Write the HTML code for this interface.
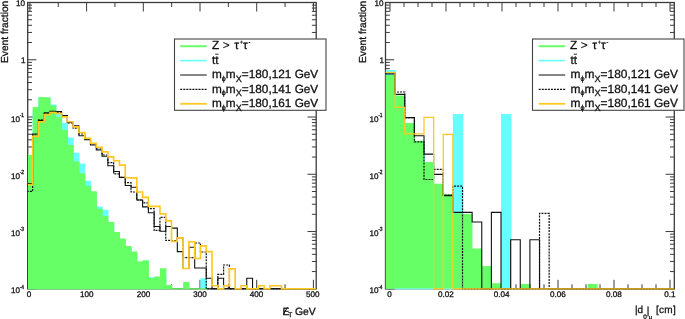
<!DOCTYPE html>
<html><head><meta charset="utf-8"><title>Event fraction</title>
<style>
html,body{margin:0;padding:0;background:#fff}
svg{display:block}
text{font-family:"Liberation Sans","DejaVu Sans",sans-serif;fill:#111;stroke:#111;stroke-width:0.3px;text-rendering:geometricPrecision}
.lb{font-size:8.1px}
.sp{font-size:6px}
.ti{font-size:10px}
.lg{font-size:11.8px}
.ls{font-size:7.2px}
.lsp{font-size:5.5px}
.ls2{font-size:9.2px}
</style></head><body>
<svg width="685" height="319" viewBox="0 0 685 319">
<rect width="685" height="319" fill="#fff"/>
<g>
<g>
<rect x="27.70" y="2.50" width="288.50" height="286.30" fill="none" stroke="#3a3a3a" stroke-width="1.3"/>
<path d="M27.70 288.80h8.70M316.20 288.80h-8.70M27.70 271.56h4.30M316.20 271.56h-4.30M27.70 261.48h4.30M316.20 261.48h-4.30M27.70 254.33h4.30M316.20 254.33h-4.30M27.70 248.78h4.30M316.20 248.78h-4.30M27.70 244.24h4.30M316.20 244.24h-4.30M27.70 240.41h4.30M316.20 240.41h-4.30M27.70 237.09h4.30M316.20 237.09h-4.30M27.70 234.16h4.30M316.20 234.16h-4.30M27.70 231.54h8.70M316.20 231.54h-8.70M27.70 214.30h4.30M316.20 214.30h-4.30M27.70 204.22h4.30M316.20 204.22h-4.30M27.70 197.07h4.30M316.20 197.07h-4.30M27.70 191.52h4.30M316.20 191.52h-4.30M27.70 186.98h4.30M316.20 186.98h-4.30M27.70 183.15h4.30M316.20 183.15h-4.30M27.70 179.83h4.30M316.20 179.83h-4.30M27.70 176.90h4.30M316.20 176.90h-4.30M27.70 174.28h8.70M316.20 174.28h-8.70M27.70 157.04h4.30M316.20 157.04h-4.30M27.70 146.96h4.30M316.20 146.96h-4.30M27.70 139.81h4.30M316.20 139.81h-4.30M27.70 134.26h4.30M316.20 134.26h-4.30M27.70 129.72h4.30M316.20 129.72h-4.30M27.70 125.89h4.30M316.20 125.89h-4.30M27.70 122.57h4.30M316.20 122.57h-4.30M27.70 119.64h4.30M316.20 119.64h-4.30M27.70 117.02h8.70M316.20 117.02h-8.70M27.70 99.78h4.30M316.20 99.78h-4.30M27.70 89.70h4.30M316.20 89.70h-4.30M27.70 82.55h4.30M316.20 82.55h-4.30M27.70 77.00h4.30M316.20 77.00h-4.30M27.70 72.46h4.30M316.20 72.46h-4.30M27.70 68.63h4.30M316.20 68.63h-4.30M27.70 65.31h4.30M316.20 65.31h-4.30M27.70 62.38h4.30M316.20 62.38h-4.30M27.70 59.76h8.70M316.20 59.76h-8.70M27.70 42.52h4.30M316.20 42.52h-4.30M27.70 32.44h4.30M316.20 32.44h-4.30M27.70 25.29h4.30M316.20 25.29h-4.30M27.70 19.74h4.30M316.20 19.74h-4.30M27.70 15.20h4.30M316.20 15.20h-4.30M27.70 11.37h4.30M316.20 11.37h-4.30M27.70 8.05h4.30M316.20 8.05h-4.30M27.70 5.12h4.30M316.20 5.12h-4.30M27.70 2.50h8.70M316.20 2.50h-8.70M29.90 288.80v-9.00M29.90 2.50v9.00M58.25 288.80v-4.50M58.25 2.50v4.50M86.60 288.80v-9.00M86.60 2.50v9.00M114.95 288.80v-4.50M114.95 2.50v4.50M143.30 288.80v-9.00M143.30 2.50v9.00M171.65 288.80v-4.50M171.65 2.50v4.50M200.00 288.80v-9.00M200.00 2.50v9.00M228.35 288.80v-4.50M228.35 2.50v4.50M256.70 288.80v-9.00M256.70 2.50v9.00M285.05 288.80v-4.50M285.05 2.50v4.50M313.40 288.80v-9.00M313.40 2.50v9.00" stroke="#3a3a3a" stroke-width="1" fill="none"/>
<clipPath id="cl"><rect x="28.0" y="0" width="288.80" height="289.80"/></clipPath><g clip-path="url(#cl)">
<path d="M27.20 288.80 L27.20 160.00 L32.64 160.00 L32.64 110.00 L38.42 110.00 L38.42 100.00 L44.21 100.00 L44.21 100.00 L50.60 100.00 L50.60 104.40 L56.38 104.40 L56.38 113.90 L62.17 113.90 L62.17 122.90 L67.96 122.90 L67.96 137.50 L73.75 137.50 L73.75 152.80 L79.53 152.80 L79.53 163.50 L85.32 163.50 L85.32 180.80 L91.11 180.80 L91.11 195.00 L96.89 195.00 L96.89 206.40 L102.68 206.40 L102.68 209.70 L108.47 209.70 L108.47 225.00 L114.25 225.00 L114.25 235.00 L120.04 235.00 L120.04 240.00 L125.83 240.00 L125.83 248.00 L131.62 248.00 L131.62 255.00 L137.40 255.00 L137.40 265.00 L142.59 265.00 L142.59 265.00 L148.98 265.00 L148.98 277.30 L154.76 277.30 L154.76 280.00 L159.95 280.00 L159.95 275.00 L166.34 275.00 L166.34 288.80 L171.53 288.80 L171.53 288.80 L177.31 288.80 L177.31 288.80 L183.10 288.80 L183.10 288.80 L188.89 288.80 L188.89 288.80 L194.67 288.80 L194.67 288.80 L200.46 288.80 L200.46 278.20 L206.85 278.20 L206.85 288.80 L212.03 288.80 L212.03 288.80 L217.82 288.80 L217.82 288.80 L223.61 288.80 L223.61 288.80 L229.39 288.80 L229.39 288.80 L235.18 288.80 L235.18 288.80 L240.97 288.80 L240.97 288.80 L246.76 288.80 L246.76 288.80 L252.54 288.80 L252.54 288.80 L258.33 288.80 L258.33 288.80 L264.12 288.80 L264.12 288.80 L269.90 288.80 L269.90 288.80 L275.69 288.80 L275.69 288.80 L281.48 288.80 L281.48 288.80 L287.27 288.80 L287.27 288.80 L293.05 288.80 L293.05 288.80 L298.84 288.80 L298.84 288.80 L304.63 288.80 L304.63 288.80 L310.41 288.80 L310.41 288.80 L316.20 288.80 L316.20 288.80 Z" fill="#66ffff"/>
<path d="M27.20 288.80 L27.20 155.10 L32.64 155.10 L32.64 106.90 L38.42 106.90 L38.42 96.90 L44.81 96.90 L44.81 97.20 L50.60 97.20 L50.60 105.50 L56.38 105.50 L56.38 117.00 L62.17 117.00 L62.17 130.00 L67.96 130.00 L67.96 145.00 L73.75 145.00 L73.75 161.40 L79.53 161.40 L79.53 173.20 L85.32 173.20 L85.32 185.70 L91.11 185.70 L91.11 191.30 L96.89 191.30 L96.89 208.70 L102.68 208.70 L102.68 216.00 L108.47 216.00 L108.47 221.90 L114.25 221.90 L114.25 231.90 L120.04 231.90 L120.04 238.60 L125.83 238.60 L125.83 246.00 L131.62 246.00 L131.62 251.50 L137.40 251.50 L137.40 261.30 L142.59 261.30 L142.59 260.30 L148.98 260.30 L148.98 278.00 L154.16 278.00 L154.16 276.40 L159.95 276.40 L159.95 268.20 L166.34 268.20 L166.34 285.10 L172.12 285.10 L172.12 288.80 L177.31 288.80 L177.31 288.80 L183.10 288.80 L183.10 282.00 L189.49 282.00 L189.49 288.80 L194.67 288.80 L194.67 288.80 L200.46 288.80 L200.46 288.80 L206.25 288.80 L206.25 288.80 L212.03 288.80 L212.03 288.80 L217.82 288.80 L217.82 288.80 L223.61 288.80 L223.61 288.80 L229.39 288.80 L229.39 288.80 L235.18 288.80 L235.18 288.80 L240.97 288.80 L240.97 288.80 L246.76 288.80 L246.76 288.80 L252.54 288.80 L252.54 288.80 L258.33 288.80 L258.33 288.80 L264.12 288.80 L264.12 288.80 L269.90 288.80 L269.90 288.80 L275.69 288.80 L275.69 288.80 L281.48 288.80 L281.48 288.80 L287.27 288.80 L287.27 288.80 L293.05 288.80 L293.05 288.80 L298.84 288.80 L298.84 288.80 L304.63 288.80 L304.63 288.80 L310.41 288.80 L310.41 288.80 L316.20 288.80 L316.20 288.80 Z" fill="#66ff66"/>
<path d="M27.70 288.80H207.10" stroke="#66ff66" stroke-width="1.2"/>
<path d="M26.85 183.50 L32.64 183.50 L32.64 134.00 L38.42 134.00 L38.42 120.40 L44.21 120.40 L44.21 112.90 L50.00 112.90 L50.00 111.30 L55.78 111.30 L55.78 111.60 L61.57 111.60 L61.57 115.50 L67.36 115.50 L67.36 122.50 L73.15 122.50 L73.15 125.80 L78.93 125.80 L78.93 135.70 L84.72 135.70 L84.72 139.80 L90.51 139.80 L90.51 145.00 L96.29 145.00 L96.29 150.00 L102.08 150.00 L102.08 156.30 L107.87 156.30 L107.87 165.70 L113.66 165.70 L113.66 171.50 L119.44 171.50 L119.44 177.50 L125.23 177.50 L125.23 185.50 L131.02 185.50 L131.02 187.30 L136.80 187.30 L136.80 200.00 L142.59 200.00 L142.59 206.90 L148.38 206.90 L148.38 212.80 L154.16 212.80 L154.16 226.50 L159.95 226.50 L159.95 231.30 L165.74 231.30 L165.74 226.50 L171.53 226.50 L171.53 228.10 L177.31 228.10 L177.31 251.60 L183.10 251.60 L183.10 268.50 L188.89 268.50 L188.89 247.20 L194.67 247.20 L194.67 268.00 L200.46 268.00 L200.46 268.00 L206.25 268.00 L206.25 278.20 L212.03 278.20 L212.03 288.80 L217.82 288.80 L217.82 278.20 L223.61 278.20 L223.61 288.80 L229.39 288.80 L229.39 288.80 L235.18 288.80 L235.18 288.80 L240.97 288.80 L240.97 288.80 L246.76 288.80 L246.76 278.20 L252.54 278.20 L252.54 288.80 L258.33 288.80 L258.33 288.80 L264.12 288.80 L264.12 288.80 L269.90 288.80 L269.90 288.80 L275.69 288.80 L275.69 288.80 L281.48 288.80 L281.48 288.80 L287.27 288.80 L287.27 288.80 L293.05 288.80 L293.05 288.80 L298.84 288.80 L298.84 288.80 L304.63 288.80 L304.63 288.80 L310.41 288.80 L310.41 288.80 L316.20 288.80" fill="none" stroke="#111" stroke-width="1.1" stroke-linejoin="miter"/>
<path d="M26.85 191.30 L32.64 191.30 L32.64 135.00 L38.42 135.00 L38.42 120.00 L44.21 120.00 L44.21 113.50 L50.00 113.50 L50.00 112.00 L55.78 112.00 L55.78 112.50 L61.57 112.50 L61.57 116.00 L67.36 116.00 L67.36 123.00 L73.15 123.00 L73.15 128.20 L78.93 128.20 L78.93 134.00 L84.72 134.00 L84.72 139.00 L90.51 139.00 L90.51 144.00 L96.29 144.00 L96.29 149.00 L102.08 149.00 L102.08 155.00 L107.87 155.00 L107.87 162.60 L113.66 162.60 L113.66 173.90 L119.44 173.90 L119.44 177.00 L125.23 177.00 L125.23 182.60 L131.02 182.60 L131.02 192.00 L136.80 192.00 L136.80 200.00 L142.59 200.00 L142.59 202.80 L148.38 202.80 L148.38 208.60 L154.16 208.60 L154.16 230.40 L159.95 230.40 L159.95 217.30 L165.74 217.30 L165.74 240.40 L171.53 240.40 L171.53 240.60 L177.31 240.60 L177.31 238.00 L183.10 238.00 L183.10 257.60 L188.89 257.60 L188.89 257.60 L194.67 257.60 L194.67 243.00 L200.46 243.00 L200.46 252.00 L206.25 252.00 L206.25 288.80 L212.03 288.80 L212.03 288.80 L217.82 288.80 L217.82 274.40 L223.61 274.40 L223.61 265.00 L229.39 265.00 L229.39 288.80 L235.18 288.80 L235.18 288.80 L240.97 288.80 L240.97 288.80 L246.76 288.80 L246.76 288.80 L252.54 288.80 L252.54 288.80 L258.33 288.80 L258.33 288.80 L264.12 288.80 L264.12 288.80 L269.90 288.80 L269.90 288.80 L275.69 288.80 L275.69 288.80 L281.48 288.80 L281.48 288.80 L287.27 288.80 L287.27 288.80 L293.05 288.80 L293.05 288.80 L298.84 288.80 L298.84 288.80 L304.63 288.80 L304.63 288.80 L310.41 288.80 L310.41 288.80 L316.20 288.80" fill="none" stroke="#111" stroke-width="1.2" stroke-dasharray="2 1.05"/>
<path d="M26.85 184.50 L32.64 184.50 L32.64 136.30 L38.42 136.30 L38.42 121.70 L44.21 121.70 L44.21 114.60 L50.00 114.60 L50.00 112.50 L55.78 112.50 L55.78 113.30 L61.57 113.30 L61.57 116.80 L67.36 116.80 L67.36 121.70 L73.15 121.70 L73.15 126.90 L78.93 126.90 L78.93 132.50 L84.72 132.50 L84.72 138.20 L90.51 138.20 L90.51 143.20 L96.29 143.20 L96.29 147.20 L102.08 147.20 L102.08 151.90 L107.87 151.90 L107.87 156.90 L113.66 156.90 L113.66 160.70 L119.44 160.70 L119.44 165.10 L125.23 165.10 L125.23 177.70 L131.02 177.70 L131.02 177.90 L136.80 177.90 L136.80 192.00 L142.59 192.00 L142.59 197.40 L148.38 197.40 L148.38 206.30 L154.16 206.30 L154.16 206.30 L159.95 206.30 L159.95 213.80 L165.74 213.80 L165.74 220.80 L171.53 220.80 L171.53 241.30 L177.31 241.30 L177.31 237.80 L183.10 237.80 L183.10 268.50 L188.89 268.50 L188.89 241.70 L194.67 241.70 L194.67 258.50 L200.46 258.50 L200.46 245.90 L206.25 245.90 L206.25 251.60 L212.03 251.60 L212.03 285.70 L217.82 285.70 L217.82 288.80 L223.61 288.80 L223.61 285.70 L229.39 285.70 L229.39 268.80 L235.18 268.80 L235.18 288.80 L240.97 288.80 L240.97 285.70 L246.76 285.70 L246.76 288.80 L252.54 288.80 L252.54 288.80 L258.33 288.80 L258.33 285.70 L264.12 285.70 L264.12 288.80 L269.90 288.80 L269.90 285.70 L275.69 285.70 L275.69 285.70 L281.48 285.70 L281.48 288.80 L287.27 288.80 L287.27 288.80 L293.05 288.80 L293.05 288.80 L298.84 288.80 L298.84 288.80 L304.63 288.80 L304.63 288.80 L310.41 288.80 L310.41 288.80 L316.20 288.80" fill="none" stroke="#ffc820" stroke-width="1.65"/>
</g>
<path d="M283.3 314.6L287.4 307.3" stroke="#111" stroke-width="1"/>
<rect x="174.5" y="39.0" width="151.5" height="71.3" fill="#fff" stroke="#444" stroke-width="1.1"/>
<path d="M180.2 46.2H206.7" stroke="#66ff66" stroke-width="2"/>
<path d="M180.2 60.6H206.7" stroke="#66ffff" stroke-width="1.6"/>
<path d="M180.2 75.0H206.7" stroke="#333" stroke-width="1.2"/>
<path d="M180.2 89.4H206.7" stroke="#111" stroke-width="1.2" stroke-dasharray="2 1.05"/>
<path d="M180.2 103.8H206.7" stroke="#ffc820" stroke-width="1.8"/>
<path d="M215.2 54.2h3.3" stroke="#111" stroke-width="0.9"/>
</g>
<g>
<rect x="385.50" y="2.50" width="288.80" height="286.30" fill="none" stroke="#3a3a3a" stroke-width="1.3"/>
<path d="M385.50 288.80h8.70M674.30 288.80h-8.70M385.50 271.56h4.30M674.30 271.56h-4.30M385.50 261.48h4.30M674.30 261.48h-4.30M385.50 254.33h4.30M674.30 254.33h-4.30M385.50 248.78h4.30M674.30 248.78h-4.30M385.50 244.24h4.30M674.30 244.24h-4.30M385.50 240.41h4.30M674.30 240.41h-4.30M385.50 237.09h4.30M674.30 237.09h-4.30M385.50 234.16h4.30M674.30 234.16h-4.30M385.50 231.54h8.70M674.30 231.54h-8.70M385.50 214.30h4.30M674.30 214.30h-4.30M385.50 204.22h4.30M674.30 204.22h-4.30M385.50 197.07h4.30M674.30 197.07h-4.30M385.50 191.52h4.30M674.30 191.52h-4.30M385.50 186.98h4.30M674.30 186.98h-4.30M385.50 183.15h4.30M674.30 183.15h-4.30M385.50 179.83h4.30M674.30 179.83h-4.30M385.50 176.90h4.30M674.30 176.90h-4.30M385.50 174.28h8.70M674.30 174.28h-8.70M385.50 157.04h4.30M674.30 157.04h-4.30M385.50 146.96h4.30M674.30 146.96h-4.30M385.50 139.81h4.30M674.30 139.81h-4.30M385.50 134.26h4.30M674.30 134.26h-4.30M385.50 129.72h4.30M674.30 129.72h-4.30M385.50 125.89h4.30M674.30 125.89h-4.30M385.50 122.57h4.30M674.30 122.57h-4.30M385.50 119.64h4.30M674.30 119.64h-4.30M385.50 117.02h8.70M674.30 117.02h-8.70M385.50 99.78h4.30M674.30 99.78h-4.30M385.50 89.70h4.30M674.30 89.70h-4.30M385.50 82.55h4.30M674.30 82.55h-4.30M385.50 77.00h4.30M674.30 77.00h-4.30M385.50 72.46h4.30M674.30 72.46h-4.30M385.50 68.63h4.30M674.30 68.63h-4.30M385.50 65.31h4.30M674.30 65.31h-4.30M385.50 62.38h4.30M674.30 62.38h-4.30M385.50 59.76h8.70M674.30 59.76h-8.70M385.50 42.52h4.30M674.30 42.52h-4.30M385.50 32.44h4.30M674.30 32.44h-4.30M385.50 25.29h4.30M674.30 25.29h-4.30M385.50 19.74h4.30M674.30 19.74h-4.30M385.50 15.20h4.30M674.30 15.20h-4.30M385.50 11.37h4.30M674.30 11.37h-4.30M385.50 8.05h4.30M674.30 8.05h-4.30M385.50 5.12h4.30M674.30 5.12h-4.30M385.50 2.50h8.70M674.30 2.50h-8.70M390.00 288.80v-9.00M390.00 2.50v9.00M404.00 288.80v-4.50M404.00 2.50v4.50M418.00 288.80v-4.50M418.00 2.50v4.50M432.00 288.80v-4.50M432.00 2.50v4.50M446.00 288.80v-9.00M446.00 2.50v9.00M460.00 288.80v-4.50M460.00 2.50v4.50M474.00 288.80v-4.50M474.00 2.50v4.50M488.00 288.80v-4.50M488.00 2.50v4.50M502.00 288.80v-9.00M502.00 2.50v9.00M516.00 288.80v-4.50M516.00 2.50v4.50M530.00 288.80v-4.50M530.00 2.50v4.50M544.00 288.80v-4.50M544.00 2.50v4.50M558.00 288.80v-9.00M558.00 2.50v9.00M572.00 288.80v-4.50M572.00 2.50v4.50M586.00 288.80v-4.50M586.00 2.50v4.50M600.00 288.80v-4.50M600.00 2.50v4.50M614.00 288.80v-9.00M614.00 2.50v9.00M628.00 288.80v-4.50M628.00 2.50v4.50M642.00 288.80v-4.50M642.00 2.50v4.50M656.00 288.80v-4.50M656.00 2.50v4.50M670.00 288.80v-9.00M670.00 2.50v9.00" stroke="#3a3a3a" stroke-width="1" fill="none"/>
<path d="M385.85 288.80 L385.85 70.00 L395.93 70.00 L395.93 100.00 L405.55 100.00 L405.55 125.00 L415.18 125.00 L415.18 145.00 L424.81 145.00 L424.81 165.00 L434.43 165.00 L434.43 188.00 L444.06 188.00 L444.06 200.00 L452.89 200.00 L452.89 114.10 L463.31 114.10 L463.31 288.80 L472.14 288.80 L472.14 288.80 L481.77 288.80 L481.77 288.80 L491.39 288.80 L491.39 288.80 L501.02 288.80 L501.02 114.10 L511.45 114.10 L511.45 288.80 L520.27 288.80 L520.27 288.80 L529.90 288.80 L529.90 288.80 L539.53 288.80 L539.53 288.80 L549.15 288.80 L549.15 288.80 L558.78 288.80 L558.78 288.80 L568.41 288.80 L568.41 288.80 L578.03 288.80 L578.03 288.80 L587.66 288.80 L587.66 288.80 L597.29 288.80 L597.29 288.80 L606.91 288.80 L606.91 288.80 L616.54 288.80 L616.54 288.80 L626.17 288.80 L626.17 288.80 L635.79 288.80 L635.79 288.80 L645.42 288.80 L645.42 288.80 L655.05 288.80 L655.05 288.80 L664.67 288.80 L664.67 288.80 L674.30 288.80 L674.30 288.80 Z" fill="#66ffff"/>
<path d="M385.85 288.80 L385.85 75.00 L395.43 75.00 L395.43 95.50 L405.05 95.50 L405.05 123.00 L414.68 123.00 L414.68 140.70 L424.31 140.70 L424.31 161.90 L433.93 161.90 L433.93 183.80 L443.56 183.80 L443.56 194.00 L453.19 194.00 L453.19 213.30 L462.81 213.30 L462.81 214.00 L472.44 214.00 L472.44 248.60 L482.07 248.60 L482.07 266.00 L491.69 266.00 L491.69 283.20 L501.32 283.20 L501.32 288.80 L510.65 288.80 L510.65 288.80 L520.27 288.80 L520.27 284.00 L530.20 284.00 L530.20 288.80 L539.53 288.80 L539.53 288.80 L549.15 288.80 L549.15 288.80 L558.78 288.80 L558.78 288.80 L568.41 288.80 L568.41 288.80 L578.03 288.80 L578.03 288.80 L587.66 288.80 L587.66 284.10 L597.59 284.10 L597.59 288.80 L606.91 288.80 L606.91 288.80 L616.54 288.80 L616.54 288.80 L626.17 288.80 L626.17 288.80 L635.79 288.80 L635.79 288.80 L645.42 288.80 L645.42 288.80 L655.05 288.80 L655.05 288.80 L664.67 288.80 L664.67 288.80 L674.30 288.80 L674.30 288.80 Z" fill="#66ff66"/>
<path d="M395.13 289.00H433.63M443.26 289.00H452.89" stroke="#8ff" stroke-width="1.1"/>
<path d="M385.50 74.00 L395.13 74.00 L395.13 94.40 L404.75 94.40 L404.75 117.60 L414.38 117.60 L414.38 135.70 L424.01 135.70 L424.01 154.10 L433.63 154.10 L433.63 174.40 L443.26 174.40 L443.26 195.60 L452.89 195.60 L452.89 212.40 L462.51 212.40 L462.51 212.40 L472.14 212.40 L472.14 222.00 L481.77 222.00 L481.77 288.80 L491.39 288.80 L491.39 212.40 L501.02 212.40 L501.02 288.80 L510.65 288.80 L510.65 239.70 L520.27 239.70 L520.27 288.80 L529.90 288.80 L529.90 239.70 L539.53 239.70 L539.53 288.80 L549.15 288.80 L549.15 288.80 L558.78 288.80 L558.78 288.80 L568.41 288.80 L568.41 288.80 L578.03 288.80 L578.03 288.80 L587.66 288.80 L587.66 288.80 L597.29 288.80 L597.29 288.80 L606.91 288.80 L606.91 288.80 L616.54 288.80 L616.54 288.80 L626.17 288.80 L626.17 288.80 L635.79 288.80 L635.79 288.80 L645.42 288.80 L645.42 288.80 L655.05 288.80 L655.05 288.80 L664.67 288.80 L664.67 288.80 L674.30 288.80" fill="none" stroke="#111" stroke-width="1.1"/>
<path d="M385.50 73.00 L395.13 73.00 L395.13 92.00 L404.75 92.00 L404.75 117.60 L414.38 117.60 L414.38 141.80 L424.01 141.80 L424.01 179.50 L433.63 179.50 L433.63 169.40 L443.26 169.40 L443.26 195.00 L452.89 195.00 L452.89 186.20 L462.51 186.20 L462.51 288.80 L472.14 288.80 L472.14 288.80 L481.77 288.80 L481.77 288.80 L491.39 288.80 L491.39 288.80 L501.02 288.80 L501.02 288.80 L510.65 288.80 L510.65 288.80 L520.27 288.80 L520.27 288.80 L529.90 288.80 L529.90 288.80 L539.53 288.80 L539.53 213.40 L549.15 213.40 L549.15 288.80 L558.78 288.80 L558.78 288.80 L568.41 288.80 L568.41 288.80 L578.03 288.80 L578.03 288.80 L587.66 288.80 L587.66 288.80 L597.29 288.80 L597.29 288.80 L606.91 288.80 L606.91 288.80 L616.54 288.80 L616.54 288.80 L626.17 288.80 L626.17 288.80 L635.79 288.80 L635.79 288.80 L645.42 288.80 L645.42 288.80 L655.05 288.80 L655.05 288.80 L664.67 288.80 L664.67 288.80 L674.30 288.80" fill="none" stroke="#111" stroke-width="1.2" stroke-dasharray="2 1.05"/>
<path d="M385.50 72.30 L395.13 72.30 L395.13 107.30 L404.75 107.30 L404.75 133.80 L414.38 133.80 L414.38 133.80 L424.01 133.80 L424.01 117.40 L433.63 117.40 L433.63 288.80 L443.26 288.80 L443.26 134.40 L452.89 134.40 L452.89 288.80 L462.51 288.80 L462.51 288.80 L472.14 288.80 L472.14 288.80 L481.77 288.80 L481.77 288.80 L491.39 288.80 L491.39 288.80 L501.02 288.80 L501.02 288.80 L510.65 288.80 L510.65 288.80 L520.27 288.80 L520.27 288.80 L529.90 288.80 L529.90 288.80 L539.53 288.80 L539.53 288.80 L549.15 288.80 L549.15 288.80 L558.78 288.80 L558.78 288.80 L568.41 288.80 L568.41 288.80 L578.03 288.80 L578.03 288.80 L587.66 288.80 L587.66 288.80 L597.29 288.80 L597.29 288.80 L606.91 288.80 L606.91 288.80 L616.54 288.80 L616.54 288.80 L626.17 288.80 L626.17 288.80 L635.79 288.80 L635.79 288.80 L645.42 288.80 L645.42 288.80 L655.05 288.80 L655.05 288.80 L664.67 288.80 L664.67 288.80 L674.30 288.80" fill="none" stroke="#ffc820" stroke-width="1.3"/>
<rect x="532.5" y="39.0" width="151.5" height="71.3" fill="#fff" stroke="#444" stroke-width="1.1"/>
<path d="M538.7 46.2H565.2" stroke="#66ff66" stroke-width="2"/>
<path d="M538.7 60.6H565.2" stroke="#66ffff" stroke-width="1.6"/>
<path d="M538.7 75.0H565.2" stroke="#333" stroke-width="1.2"/>
<path d="M538.7 89.4H565.2" stroke="#111" stroke-width="1.2" stroke-dasharray="2 1.05"/>
<path d="M538.7 103.8H565.2" stroke="#ffc820" stroke-width="1.8"/>
<path d="M573.7 54.2h3.3" stroke="#111" stroke-width="0.9"/>
</g>
</g>
<defs><filter id="g" x="0" y="0" width="685" height="319" filterUnits="userSpaceOnUse" color-interpolation-filters="sRGB"><feOffset dx="0" dy="0"/></filter></defs>
<g filter="url(#g)">
<text x="25.0" y="6.2" text-anchor="end" class="lb">10</text>
<text x="25.5" y="62.8" text-anchor="end" class="lb">1</text>
<text x="19.9" y="121.5" text-anchor="end" class="lb">10</text>
<text x="19.7" y="116.8" class="sp" textLength="4.4" lengthAdjust="spacingAndGlyphs">-1</text>
<text x="19.9" y="178.8" text-anchor="end" class="lb">10</text>
<text x="19.7" y="174.1" class="sp" textLength="4.4" lengthAdjust="spacingAndGlyphs">-2</text>
<text x="19.9" y="236.0" text-anchor="end" class="lb">10</text>
<text x="19.7" y="231.3" class="sp" textLength="4.4" lengthAdjust="spacingAndGlyphs">-3</text>
<text x="19.9" y="293.3" text-anchor="end" class="lb">10</text>
<text x="19.7" y="288.6" class="sp" textLength="4.4" lengthAdjust="spacingAndGlyphs">-4</text>
<text x="28.9" y="297.2" text-anchor="middle" class="lb">0</text>
<text x="86.7" y="297.2" text-anchor="middle" class="lb">100</text>
<text x="143.4" y="297.2" text-anchor="middle" class="lb">200</text>
<text x="199.9" y="297.2" text-anchor="middle" class="lb">300</text>
<text x="256.5" y="297.2" text-anchor="middle" class="lb">400</text>
<text x="312.7" y="297.2" text-anchor="middle" class="lb">500</text>
<text transform="translate(8.0,63) rotate(-90)" class="ti" style="font-size:10.2px">Event fraction</text>
<text y="314.8" class="ti" style="font-size:10.4px"><tspan x="282.6">E</tspan><tspan style="font-size:6.6px" x="288.2" dy="2.6">T</tspan><tspan x="295" dy="-2.6">GeV</tspan></text>
<text y="49.3" class="lg"><tspan x="212.0">Z</tspan><tspan x="222.7">&gt;</tspan><tspan x="234.3">τ</tspan><tspan class="lsp" x="239.7" dy="-5.2">+</tspan><tspan x="243.1" dy="5.2">τ</tspan><tspan class="lsp" x="248.5" dy="-5.4">-</tspan></text>
<text x="212.0" y="63.5" class="lg">tt</text>
<text x="212.0" y="78.3" class="lg">m<tspan class="ls" dy="2.6">ϕ</tspan><tspan dy="-2.6">m</tspan><tspan class="ls2" dy="3.8">X</tspan><tspan dy="-3.8">=180,121 GeV</tspan></text>
<text x="212.0" y="92.6" class="lg">m<tspan class="ls" dy="2.6">ϕ</tspan><tspan dy="-2.6">m</tspan><tspan class="ls2" dy="3.8">X</tspan><tspan dy="-3.8">=180,141 GeV</tspan></text>
<text x="212.0" y="106.9" class="lg">m<tspan class="ls" dy="2.6">ϕ</tspan><tspan dy="-2.6">m</tspan><tspan class="ls2" dy="3.8">X</tspan><tspan dy="-3.8">=180,161 GeV</tspan></text>
<text x="383.5" y="6.2" text-anchor="end" class="lb">10</text>
<text x="384.0" y="62.8" text-anchor="end" class="lb">1</text>
<text x="378.4" y="121.5" text-anchor="end" class="lb">10</text>
<text x="378.2" y="116.8" class="sp" textLength="4.4" lengthAdjust="spacingAndGlyphs">-1</text>
<text x="378.4" y="178.8" text-anchor="end" class="lb">10</text>
<text x="378.2" y="174.1" class="sp" textLength="4.4" lengthAdjust="spacingAndGlyphs">-2</text>
<text x="378.4" y="236.0" text-anchor="end" class="lb">10</text>
<text x="378.2" y="231.3" class="sp" textLength="4.4" lengthAdjust="spacingAndGlyphs">-3</text>
<text x="378.4" y="293.3" text-anchor="end" class="lb">10</text>
<text x="378.2" y="288.6" class="sp" textLength="4.4" lengthAdjust="spacingAndGlyphs">-4</text>
<text x="389.4" y="297.2" text-anchor="middle" class="lb">0</text>
<text x="445.8" y="297.2" text-anchor="middle" class="lb">0.02</text>
<text x="501.6" y="297.2" text-anchor="middle" class="lb">0.04</text>
<text x="557.8" y="297.2" text-anchor="middle" class="lb">0.06</text>
<text x="613.8" y="297.2" text-anchor="middle" class="lb">0.08</text>
<text x="670.0" y="297.2" text-anchor="middle" class="lb">0.1</text>
<text transform="translate(366.2,63) rotate(-90)" class="ti" style="font-size:10.2px">Event fraction</text>
<text y="312.6" class="ti"><tspan x="635">|d</tspan><tspan style="font-size:6.4px" x="643.2" y="318.6">0</tspan><tspan x="646.7" y="314.4">|</tspan><tspan style="font-size:5.6px" x="648.7" y="318.8">μ</tspan><tspan x="655.9" y="312.6" style="letter-spacing:0.35px">[cm]</tspan></text>
<text y="49.3" class="lg"><tspan x="570.0">Z</tspan><tspan x="580.7">&gt;</tspan><tspan x="592.3">τ</tspan><tspan class="lsp" x="597.7" dy="-5.2">+</tspan><tspan x="601.1" dy="5.2">τ</tspan><tspan class="lsp" x="606.5" dy="-5.4">-</tspan></text>
<text x="570.5" y="63.5" class="lg">tt</text>
<text x="570.5" y="78.3" class="lg" style="font-size:11.95px">m<tspan class="ls" dy="2.6">ϕ</tspan><tspan dy="-2.6">m</tspan><tspan class="ls2" dy="3.8">X</tspan><tspan dy="-3.8">=180,121 GeV</tspan></text>
<text x="570.5" y="92.6" class="lg" style="font-size:11.95px">m<tspan class="ls" dy="2.6">ϕ</tspan><tspan dy="-2.6">m</tspan><tspan class="ls2" dy="3.8">X</tspan><tspan dy="-3.8">=180,141 GeV</tspan></text>
<text x="570.5" y="106.9" class="lg" style="font-size:11.95px">m<tspan class="ls" dy="2.6">ϕ</tspan><tspan dy="-2.6">m</tspan><tspan class="ls2" dy="3.8">X</tspan><tspan dy="-3.8">=180,161 GeV</tspan></text>
</g>
</svg></body></html>
